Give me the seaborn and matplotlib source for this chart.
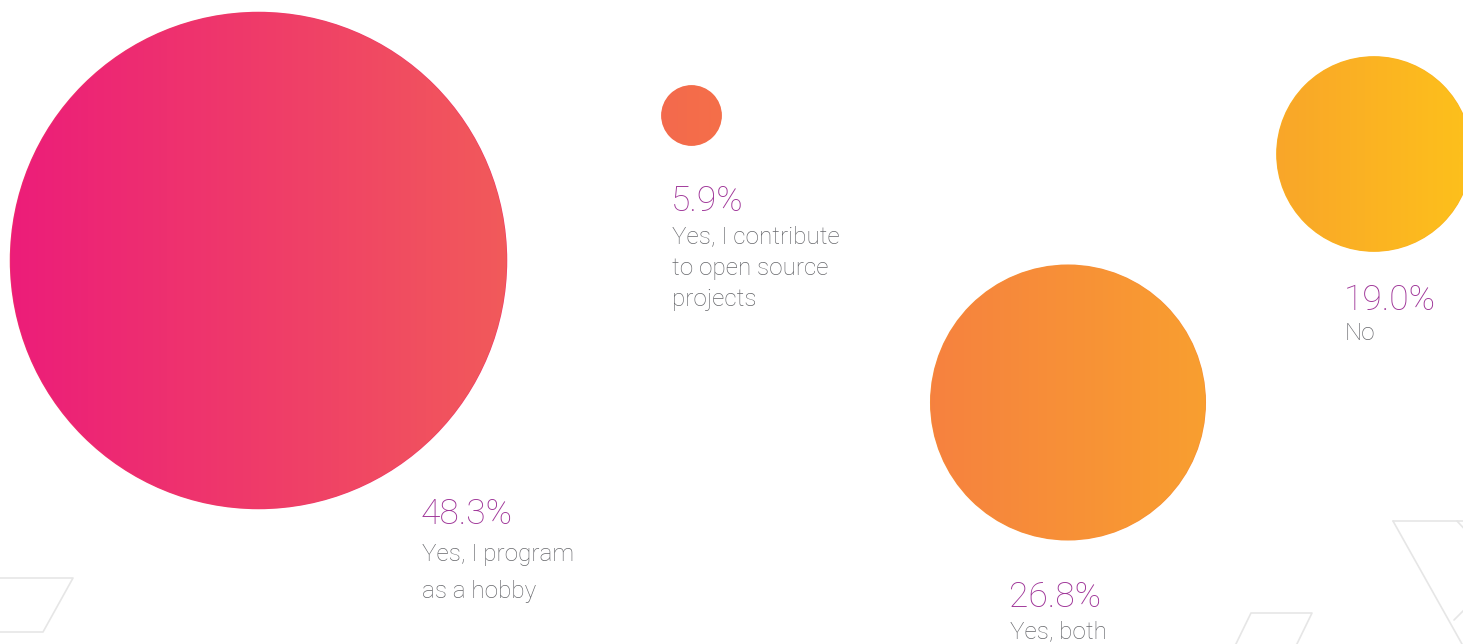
import numpy as np
import pandas as pd
import matplotlib
matplotlib.use("Agg")
import matplotlib.pyplot as plt
from matplotlib.colors import LinearSegmentedColormap
from matplotlib.patches import Circle
import seaborn as sns

# Data
answers = ["Yes, I program\nas a hobby", "Yes, I contribute\nto open source\nprojects",
           "Yes, both", "No"]
shares = [48.3, 5.9, 26.8, 19.0]

# Layout (pixel coordinates of the canvas)
W, H = 1463, 644
px_per_pct = 5.15          # bubble radius per percentage point
centre_x = [258.5, 691.5, 1068, 1374]
centre_y = [260.5, 115.5, 402.5, 154]
text_x = [421, 671, 1009, 1344]
pct_base = [524, 211, 607, 310]
label_base = [561, 243, 638, 340]
label_step = [37, 31.5, 31, 31]

# horizontal gradient pink -> orange -> yellow
grad = LinearSegmentedColormap.from_list("grad", [
    (0.00, "#ec1c7a"), (0.17, "#ef3a6a"), (0.35, "#f25b5a"), (0.47, "#f46c4b"),
    (0.64, "#f6823f"), (0.82, "#f99e30"), (0.87, "#f9a52a"), (1.00, "#fdbf1c")])

PURPLE = "#9f3598"
GREY = "#66676b"

sns.set_style("white")
plt.rcParams["font.family"] = ["Roboto", "DejaVu Sans"]

df = pd.DataFrame({"answer": answers, "share": shares, "x": centre_x, "y": centre_y})
df["radius"] = df["share"] * px_per_pct

fig = plt.figure(figsize=(W / 100, H / 100), dpi=100)
ax = fig.add_axes([0, 0, 1, 1])

# faint decorative parallelograms
deco = [
    [(0, 578), (73, 578), (43, 632), (0, 632)],
    [(1393, 521), (1470, 521)],
    [(1393, 521), (1462, 644)],
    [(1457, 521), (1470, 535)],
    [(1454, 620), (1470, 604)],
    [(1233, 650), (1251, 613), (1312, 613), (1294, 650)],
]
for pts in deco:
    xs, ys = zip(*pts)
    ax.plot(xs, ys, color="#e6e6e6", lw=1.2, zorder=0)

# solid base bubbles through seaborn (diameter in points = 2r * 0.72)
sizes = {a: (2 * r * 0.72) ** 2 for a, r in zip(df["answer"], df["radius"])}
colours = {a: grad(x / W) for a, x in zip(df["answer"], df["x"])}
sns.scatterplot(data=df, x="x", y="y", hue="answer", size="answer",
                sizes=sizes, palette=colours, linewidth=0, legend=False,
                ax=ax, zorder=1)

# gradient fill clipped to each bubble
g = np.linspace(0, 1, 600).reshape(1, -1)
for _, row in df.iterrows():
    img = ax.imshow(g, cmap=grad, extent=[0, W, H, 0], aspect="auto",
                    interpolation="bicubic", zorder=2)
    c = Circle((row["x"], row["y"]), row["radius"] - 0.6, transform=ax.transData)
    img.set_clip_path(c)

# labels
for i, (a, s) in enumerate(zip(answers, shares)):
    ax.text(text_x[i], pct_base[i], f"{s:.1f}%", color=PURPLE, fontsize=25.5,
            fontweight="light", va="baseline", ha="left", zorder=3)
    for j, line in enumerate(a.split("\n")):
        ax.text(text_x[i] + 1, label_base[i] + j * label_step[i], line, color=GREY,
                fontsize=17.5, fontweight="light", va="baseline", ha="left", zorder=3)

ax.set_xlim(0, W)
ax.set_ylim(H, 0)
ax.axis("off")

fig.savefig("out.png", dpi=100, facecolor="white")
